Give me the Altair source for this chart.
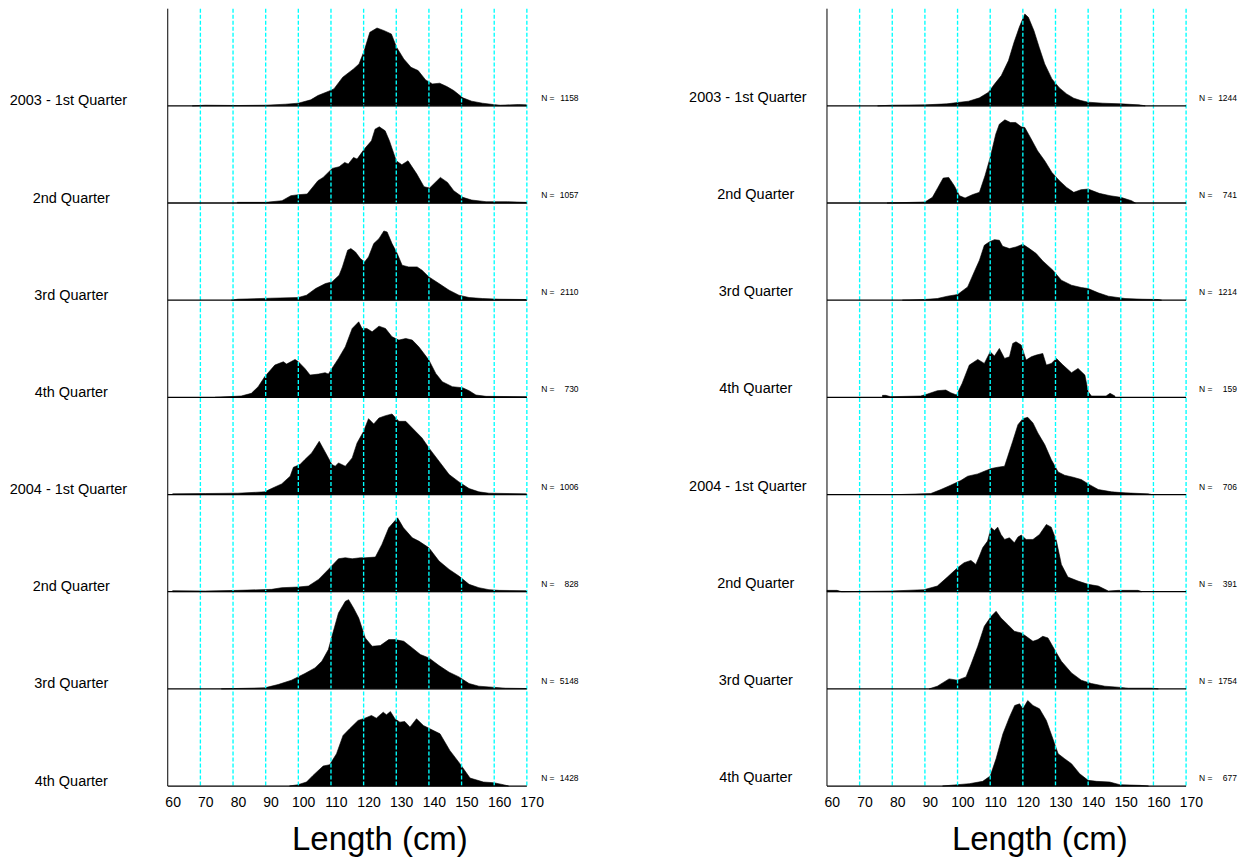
import altair as alt
import pandas as pd

FONT = "Liberation Sans, Arial, Helvetica, sans-serif"

ROW_LABELS = ["2003 - 1st Quarter", "2nd Quarter", "3rd Quarter", "4th Quarter",
              "2004 - 1st Quarter", "2nd Quarter", "3rd Quarter", "4th Quarter"]
LEFT_N = [1158, 1057, 2110, 730, 1006, 828, 5148, 1428]
RIGHT_N = [1244, 741, 1214, 159, 706, 391, 1754, 677]

TICK_CM = [60, 70, 80, 90, 100, 110, 120, 130, 140, 150, 160, 170]
GRID_CM = [68.5, 78.5, 88.5, 98.5, 108.5, 118.5, 128.5, 138.5, 148.5, 158.5, 168.5]
AXIS_START = 58.5
AXIS_END = 168.5

# ---------------- left panel: length (cm) / relative frequency ----------------
L1_LEN = [66, 70, 80, 88.5, 94.6, 98.5, 102.3, 104.5, 107.8, 109.4,
          112.1, 115.4, 117.1, 118.7, 120.4, 122.6, 124.8, 127.0, 128.6, 130.8,
          133.0, 135.2, 137.5, 139.6, 141.8, 144.0, 146.1, 148.9, 151.6, 154.9,
          158.2, 160.4, 165.9, 168.4]
L1_H = [0, 2, 1, 2, 5, 8, 18, 31, 44, 51,
        86, 111, 126, 166, 221, 234, 226, 216, 176, 141,
        116, 106, 78, 66, 68, 58, 46, 24, 14, 8,
        4, 2, 4, 3]

L2_LEN = [79.8, 88.5, 93.5, 96.2, 98.5, 101.2, 104.5, 106.1, 108.9, 111.0,
          112.7, 113.8, 115.4, 116.5, 117.6, 118.7, 120.9, 122.0, 123.3, 125.1,
          126.4, 128.5, 130.2, 132.1, 134.8, 137.0, 138.7, 142.0, 144.2, 146.1,
          148.9, 151.6, 156.0, 162.5, 168.4]
L2_H = [2, 2, 7, 22, 25, 27, 67, 77, 104, 109,
        122, 117, 137, 132, 147, 162, 187, 222, 229, 217,
        187, 127, 115, 127, 87, 49, 45, 77, 62, 37,
        17, 9, 4, 4, 2]

L3_LEN = [78.0, 80, 90, 98.5, 101.0, 103.8, 106.8, 108.8, 111.0, 112.0,
          113.6, 114.6, 116.0, 117.5, 118.8, 120.0, 121.6, 123.2, 124.7, 125.7,
          127.2, 128.8, 130.3, 132.3, 134.9, 136.4, 138.5, 141.6, 144.7, 147.7,
          150.8, 154.9, 160, 168.4]
L3_H = [0, 3, 6, 8, 15, 35, 50, 55, 75, 100,
        150, 155, 145, 125, 115, 130, 170, 185, 208, 205,
        170, 140, 105, 100, 100, 90, 70, 50, 30, 15,
        8, 5, 3, 2]

L4_LEN = [73, 81, 84.1, 86.2, 88.2, 91.3, 93.9, 94.9, 97.5, 98.5,
          100.5, 102.1, 104.7, 106.7, 107.7, 108.8, 110.8, 112.9, 115.0, 117.0,
          118.0, 119.5, 121.1, 123.2, 125.2, 127.2, 129.3, 131.4, 133.4, 135.4,
          138.5, 140.6, 142.6, 145.7, 148.8, 150.8, 152.9, 156, 168.4]
L4_H = [0, 4, 12, 32, 62, 97, 107, 100, 114, 107,
        87, 67, 70, 74, 70, 87, 117, 152, 207, 227,
        207, 207, 197, 214, 207, 182, 172, 177, 172, 152,
        112, 72, 47, 32, 29, 20, 7, 3, 2]

L5_LEN = [60, 70, 80, 88.2, 90.3, 93.4, 96.0, 97.0, 99.0, 100.5,
          102.6, 104.9, 106.7, 108.8, 109.8, 110.8, 112.9, 115.0, 116.5, 118.5,
          120.0, 121.6, 123.2, 125.2, 127.2, 129.3, 131.4, 133.4, 136.4, 138.5,
          141.6, 144.7, 147.7, 150.8, 153.8, 156.9, 168.4]
L5_H = [2, 3, 4, 8, 18, 32, 55, 82, 90, 105,
        125, 160, 128, 90, 85, 95, 85, 110, 155, 190,
        228, 212, 230, 237, 242, 220, 220, 200, 170, 140,
        100, 60, 38, 18, 8, 4, 2]

L6_LEN = [60, 70, 80, 90.3, 93.4, 98.5, 101.6, 104.7, 107.7, 110.8,
          112.9, 115.0, 117.5, 119.0, 122.1, 124.1, 126.2, 128.9, 130.7, 133.4,
          135.4, 138.5, 141.6, 144.7, 147.7, 150.8, 153.8, 156.9, 160, 168.4]
L6_H = [3, 2, 4, 7, 12, 14, 17, 37, 67, 99,
        102, 99, 102, 102, 104, 142, 192, 222, 192, 162,
        152, 132, 92, 67, 47, 22, 12, 6, 4, 3]

L7_LEN = [74.9, 88.2, 92.3, 96.4, 100.5, 103.6, 105.7, 107.7, 108.8, 110.8,
          112.9, 113.9, 115.4, 117.0, 119.0, 121.1, 123.6, 126.2, 128.2, 130.8,
          133.4, 135.9, 138.5, 141.6, 144.7, 147.7, 150.8, 153.8, 157.9, 162.0,
          168.4]
L7_H = [0, 3, 13, 26, 46, 63, 83, 118, 158, 228,
        263, 268, 243, 213, 153, 128, 130, 148, 148, 143,
        123, 103, 93, 70, 50, 36, 16, 8, 5, 2,
        1]

L8_LEN = [95.8, 98.4, 101.0, 103.0, 106.1, 108.1, 110.2, 112.2, 114.2, 116.8,
          118.9, 120.9, 122.4, 124.5, 125.5, 126.7, 128.1, 129.6, 131.1, 132.7,
          134.7, 136.8, 138.8, 141.9, 144.9, 148.0, 151.1, 155.2, 158.3, 161.3,
          162.9]
L8_H = [0, 4, 12, 32, 60, 64, 97, 152, 172, 197,
        204, 212, 204, 222, 214, 224, 202, 192, 194, 177,
        202, 182, 172, 157, 107, 67, 24, 12, 10, 4,
        0]

# ---------------- right panel ----------------
R1_LEN = [74, 78.5, 88.5, 95.2, 98.5, 101.9, 105.2, 108.0, 109.7, 111.9,
          114.1, 115.8, 117.4, 119.1, 120.2, 121.9, 123.5, 125.2, 127.4, 129.7,
          131.9, 134.1, 136.3, 138.5, 143.0, 148.5, 154.1, 156]
R1_H = [0, 2, 3, 6, 10, 14, 24, 41, 64, 91,
        136, 191, 236, 276, 266, 226, 176, 126, 81, 54,
        36, 23, 16, 11, 8, 6, 3, 0]

R2_LEN = [76.9, 88.5, 90.8, 92.5, 94.1, 95.8, 97.5, 99.1, 100.8, 103.0,
          105.2, 106.9, 108.5, 110.2, 111.3, 113.0, 114.7, 116.3, 118.0, 119.1,
          120.8, 123.0, 125.2, 127.4, 129.7, 131.9, 134.1, 136.3, 138.5, 141.9,
          145.2, 148.5, 151.8, 153.0]
R2_H = [0, 3, 17, 47, 75, 77, 52, 22, 15, 25,
        32, 82, 137, 207, 237, 250, 242, 242, 229, 227,
        197, 157, 127, 92, 67, 47, 32, 40, 42, 29,
        22, 17, 7, 0]

R3_LEN = [81.6, 88.2, 92.3, 95.4, 98.5, 101.6, 103.6, 105.2, 106.7, 108.2,
          109.8, 111.3, 112.3, 114.4, 116.4, 118.5, 120.5, 122.6, 124.6, 127.7,
          130.3, 133.4, 136.4, 138.5, 141.6, 144.7, 149.8, 155.0, 160.0, 161]
R3_H = [0, 2, 5, 12, 17, 40, 85, 120, 165, 175,
        182, 180, 162, 155, 160, 168, 155, 140, 118, 90,
        60, 45, 38, 35, 22, 12, 5, 3, 2, 0]

R4_LEN = [75.5, 76.5, 78, 87.2, 89.3, 92.3, 94.9, 96.4, 98.2, 99.9,
          102.1, 104.7, 106.7, 108.5, 109.8, 111.3, 112.9, 114.4, 115.4, 116.4,
          118.0, 119.5, 121.1, 122.6, 124.6, 125.7, 127.2, 128.8, 130.8, 133.4,
          135.4, 137.5, 138.5, 139.5, 144, 145.2, 146.7]
R4_H = [6, 6, 2, 4, 10, 20, 22, 14, 7, 42,
        97, 114, 102, 137, 124, 147, 117, 122, 162, 167,
        157, 112, 122, 127, 132, 97, 102, 117, 97, 74,
        87, 67, 17, 4, 4, 12, 4]

R5_LEN = [81, 90.3, 93.4, 96.4, 99.5, 101.6, 104.7, 106.7, 108.8, 110.8,
          112.9, 113.9, 115.4, 117.0, 118.5, 120.0, 121.6, 123.1, 125.2, 127.2,
          129.3, 131.3, 133.9, 136.4, 138.5, 141.6, 145.7, 149.8, 156.9, 158]
R5_H = [0, 3, 15, 28, 42, 55, 62, 70, 78, 82,
        85, 115, 160, 210, 228, 232, 215, 185, 150, 105,
        68, 58, 52, 45, 32, 15, 8, 5, 2, 0]

R6_LEN = [58.5, 61.6, 63, 78, 88.2, 92.3, 95.4, 98.5, 100.5, 102.6,
          104.1, 105.2, 106.2, 107.7, 108.8, 109.8, 110.8, 111.8, 112.9, 114.4,
          115.9, 117.0, 118.0, 119.5, 121.6, 123.6, 125.7, 127.2, 128.8, 130.3,
          132.3, 135.4, 138.5, 141.6, 144.7, 147.7, 153.8, 155]
R6_H = [4, 4, 0, 2, 6, 17, 44, 72, 87, 94,
        82, 107, 132, 152, 192, 184, 194, 172, 157, 162,
        147, 164, 170, 157, 157, 172, 202, 194, 152, 82,
        44, 32, 22, 17, 2, 4, 4, 0]

R7_LEN = [89.8, 92.3, 95.9, 98.5, 101.1, 102.6, 104.7, 106.7, 108.8, 110.3,
          111.8, 113.9, 115.9, 118.0, 119.5, 121.6, 123.1, 124.6, 126.2, 128.2,
          130.3, 133.4, 136.4, 139.5, 143.6, 147.7, 150.8, 158, 160]
R7_H = [0, 8, 30, 26, 36, 73, 128, 188, 218, 233,
        213, 193, 173, 168, 158, 143, 148, 158, 153, 118,
        83, 48, 26, 16, 8, 5, 2, 2, 0]

R8_LEN = [93.9, 98.5, 102.1, 106.2, 108.5, 110.3, 112.4, 114.4, 116.0, 117.5,
          118.5, 120.0, 121.6, 123.6, 125.7, 127.7, 129.3, 131.3, 133.4, 135.9,
          138.5, 141.1, 145.1, 148.2, 154.4, 157]
R8_H = [0, 4, 7, 14, 30, 82, 157, 207, 242, 247,
        232, 257, 242, 232, 197, 142, 97, 82, 67, 37,
        17, 14, 12, 4, 2, 0]

LEFT_SERIES = [(L1_LEN, L1_H), (L2_LEN, L2_H), (L3_LEN, L3_H), (L4_LEN, L4_H),
               (L5_LEN, L5_H), (L6_LEN, L6_H), (L7_LEN, L7_H), (L8_LEN, L8_H)]
RIGHT_SERIES = [(R1_LEN, R1_H), (R2_LEN, R2_H), (R3_LEN, R3_H), (R4_LEN, R4_H),
                (R5_LEN, R5_H), (R6_LEN, R6_H), (R7_LEN, R7_H), (R8_LEN, R8_H)]

N_ROWS = 8
ROW_STEP = 292          # one ridge row, in the same units as the heights
PLOT_W = 1073
PLOT_H = 778.6
X_DOMAIN = [58.5, 171]
PX_PER_CM = 3.27


def curve_frame(series):
    recs = []
    for i, (lens, hs) in enumerate(series):
        base = (N_ROWS - 1 - i) * ROW_STEP
        for l, h in zip(lens, hs):
            recs.append({"row": i, "len": l, "top": base + h, "base": base})
    return pd.DataFrame(recs)


def row_frame(nvals):
    recs = []
    for i, (lab, n) in enumerate(zip(ROW_LABELS, nvals)):
        recs.append({"row": i, "base": (N_ROWS - 1 - i) * ROW_STEP, "label": lab,
                     "year": " - " in lab, "n": str(n),
                     "len": AXIS_START, "len2": AXIS_END})
    return pd.DataFrame(recs)


Y_SCALE = alt.Scale(domain=[0, N_ROWS * ROW_STEP], nice=False, zero=False)


def panel(series, nvals, x0, title_x, year_cx, quarter_cx, lab_dy, n_left, n_right):
    sx = alt.Scale(domain=X_DOMAIN, range=[x0, x0 + (X_DOMAIN[1] - X_DOMAIN[0]) * PX_PER_CM],
                   nice=False, zero=False)
    ax = alt.Axis(values=TICK_CM, orient="bottom", ticks=False, tickSize=0, domain=False,
                  grid=False, labelFont=FONT, labelFontSize=14, labelColor="black",
                  labelPadding=9.5, labelOverlap=False, labelFlush=False,
                  title="Length (cm)", titleFont=FONT, titleFontSize=33,
                  titleFontWeight="normal", titleColor="black", titleX=title_x,
                  titleY=63.4, titleBaseline="alphabetic", titleAlign="center")
    X = alt.X("len:Q", scale=sx, axis=ax)
    Ybase = alt.Y("base:Q", scale=Y_SCALE, axis=None)

    cdf = curve_frame(series)
    rdf = row_frame(nvals)
    gdf = pd.DataFrame({"len": GRID_CM})
    adf = pd.DataFrame({"len": [AXIS_START]})

    areas = alt.Chart(cdf).mark_area(color="black", interpolate="linear",
                                     stroke="black", strokeWidth=0.6).encode(
        x=X, y=alt.Y("top:Q", scale=Y_SCALE, axis=None), y2="base:Q", detail="row:N")
    baselines = alt.Chart(rdf).mark_rule(color="black", strokeWidth=1.3).encode(
        x=X, x2="len2:Q", y=Ybase)
    grid = alt.Chart(gdf).mark_rule(color="#00FFFF", strokeWidth=1.35, strokeDash=[4, 2]).encode(
        x=X, y=alt.value(0), y2=alt.value(PLOT_H))
    vaxis = alt.Chart(adf).mark_rule(color="black", strokeWidth=1).encode(
        x=X, y=alt.value(0), y2=alt.value(PLOT_H))
    year_lab = alt.Chart(rdf).transform_filter("datum.year").mark_text(
        align="center", baseline="alphabetic", dy=lab_dy, font=FONT, fontSize=14.5,
        color="black").encode(x=alt.value(year_cx), y=Ybase, text="label:N")
    q_lab = alt.Chart(rdf).transform_filter("!datum.year").mark_text(
        align="center", baseline="alphabetic", dy=lab_dy, font=FONT, fontSize=14.5,
        color="black").encode(x=alt.value(quarter_cx), y=Ybase, text="label:N")
    n_eq = alt.Chart(rdf).mark_text(align="left", baseline="alphabetic", dy=-5,
                                    font=FONT, fontSize=8.5, color="black").encode(
        x=alt.value(n_left), y=Ybase, text=alt.value("N ="))
    n_val = alt.Chart(rdf).mark_text(align="right", baseline="alphabetic", dy=-5,
                                     font=FONT, fontSize=8.5, color="black").encode(
        x=alt.value(n_right), y=Ybase, text="n:N")
    return alt.layer(areas, grid, baselines, vaxis, year_lab, q_lab, n_eq, n_val)


left = panel(LEFT_SERIES, LEFT_N, 0, 212, -99.5, -96.6, -0.5, 374, 411.5)
right = panel(RIGHT_SERIES, RIGHT_N, 660.3, 873, 581, 589, -4, 1033, 1071)

chart = alt.layer(left, right).resolve_scale(x="independent").properties(
    width=PLOT_W, height=PLOT_H,
    background="white",
    autosize=alt.AutoSizeParams(type="none"),
    padding={"left": 160, "top": 0, "right": 0, "bottom": 75},
).configure_view(stroke=None, strokeWidth=0)

chart.save("out.html", embed_options={"renderer": "svg", "actions": False})
